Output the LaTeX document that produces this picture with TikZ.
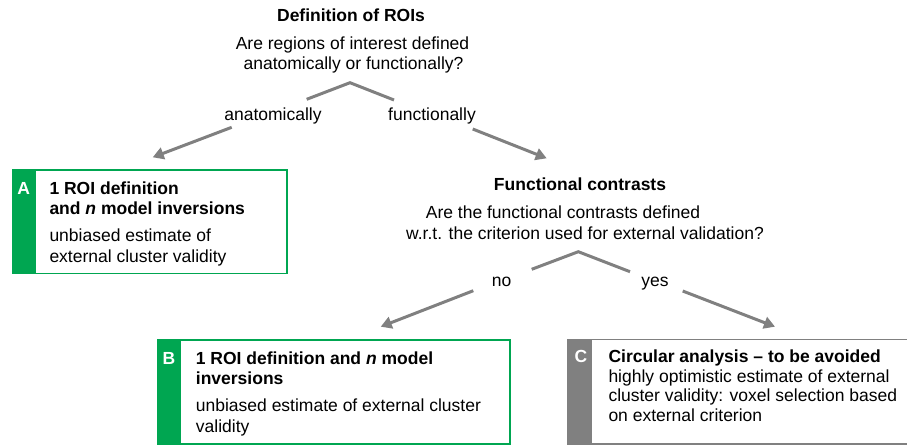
\documentclass[tikz,border=0pt]{standalone}
\usepackage{fontspec}
\setmainfont{Liberation Sans}
\usetikzlibrary{arrows.meta}
\definecolor{roigreen}{RGB}{0,166,81}
\definecolor{roigray}{RGB}{128,128,128}
\tikzset{
  fork/.style={draw=roigray,line width=3pt},
  pick/.style={fork,-{Triangle[length=11pt,width=12pt]}},
  txt/.style={anchor=base,inner sep=0pt,font=\fontsize{17.5}{21}\selectfont},
  head/.style={txt,font=\fontsize{17.5}{21}\selectfont\bfseries},
  boxtxt/.style={txt,anchor=base west},
  boxhead/.style={head,anchor=base west},
  letter/.style={head,text=white},
}
\begin{document}
\begin{tikzpicture}[x=1pt,y=-1pt]
\useasboundingbox (0,0) rectangle (907,445);
\pgfmathsetmacro{\lsep}{20.5}
\pgfmathsetmacro{\bwid}{23.5}
\node[head] (roi) at (351,21.5) {Definition of ROIs};
\node[txt] (roiq1) at (352.5,49.3) {Are regions of interest defined};
\node[txt] (roiq2) at (353.5,69.5) {anatomically or functionally?};
\node[txt] (anat) at (273,120.7) {anatomically};
\node[txt] (func) at (432,120.7) {functionally};
\node[head] (con) at (580,190.7) {Functional contrasts};
\node[txt] (conq1) at (563,218.3) {Are the functional contrasts defined};
\node[txt] (conq2) at (585,239.5) {w.r.t. the criterion used for external validation?};
\node[txt] (no) at (501.7,286.7) {no};
\node[txt] (yes) at (655,286.7) {yes};
\coordinate (roitop) at (350,82.7);
\coordinate (roileft) at (306.7,99.3);
\coordinate (roiright) at (394,100);
\coordinate (contop) at (578.3,251.7);
\coordinate (conleft) at (531.7,269.3);
\coordinate (conright) at (630,271.7);
\coordinate (anattail) at (231.7,127.3);
\coordinate (anattip) at (152.7,157.3);
\coordinate (functail) at (472.7,129);
\coordinate (functip) at (546.7,158.3);
\coordinate (notail) at (473.3,290.7);
\coordinate (notip) at (380.7,326.7);
\coordinate (yestail) at (682.7,291);
\coordinate (yestip) at (775,326.7);
\draw[fork](roileft)--(roitop)--(roiright);
\draw[fork](conleft)--(contop)--(conright);
\foreach \a/\b in {anattail/anattip,functail/functip,notail/notip,yestail/yestip}{\draw[pick](\a)--(\b);}
\node[draw=roigreen,line width=1.6pt,inner sep=0pt,anchor=north west,minimum width=274pt,minimum height=103.4pt] (boxA) at (12,169.3) {};
\fill[roigreen](boxA.north west) rectangle ([xshift=\bwid pt]boxA.south west);
\node[letter] (labA) at ([shift={(\bwid/2,25)}]boxA.north west) {A};
\foreach \i/\t in {0/{1 ROI definition},1/{and {\itshape n} model inversions}}{\node[boxhead] (headA\i) at ([shift={(37.3,25+\i*\lsep)}]boxA.north west) {\t};}
\foreach \i/\t in {0/{unbiased estimate of},1/{external cluster validity}}{\node[boxtxt] (bodyA\i) at ([shift={(37.3,72.4+\i*\lsep)}]boxA.north west) {\t};}
\node[draw=roigreen,line width=1.6pt,inner sep=0pt,anchor=north west,minimum width=352pt,minimum height=104pt] (boxB) at (157.3,339.3) {};
\fill[roigreen](boxB.north west) rectangle ([xshift=\bwid pt]boxB.south west);
\node[letter] (labB) at ([shift={(\bwid/2,25)}]boxB.north west) {B};
\foreach \i/\t in {0/{1 ROI definition and {\itshape n} model},1/{inversions}}{\node[boxhead] (headB\i) at ([shift={(38.4,25+\i*\lsep)}]boxB.north west) {\t};}
\foreach \i/\t in {0/{unbiased estimate of external cluster},1/{validity}}{\node[boxtxt] (bodyB\i) at ([shift={(38.4,72.4+\i*\lsep)}]boxB.north west) {\t};}
\coordinate (boxC) at (567.3,339.3);
\draw[roigray,line width=1.6pt](907,339.3)-|(567.3,444)--(907,444);
\fill[roigray](boxC) rectangle ++(24.4,104.7);
\node[letter] (labC) at ([shift={(13.7,23)}]boxC) {C};
\node[boxhead] (headC) at ([shift={(41,23)}]boxC) {Circular analysis -- to be avoided};
\foreach \i/\t in {0/{highly optimistic estimate of external},1/{cluster validity: voxel selection based},2/{on external criterion}}{\node[boxtxt] (bodyC\i) at ([shift={(41,43.4+\i*19.2)}]boxC) {\t};}
\end{tikzpicture}
\end{document}
